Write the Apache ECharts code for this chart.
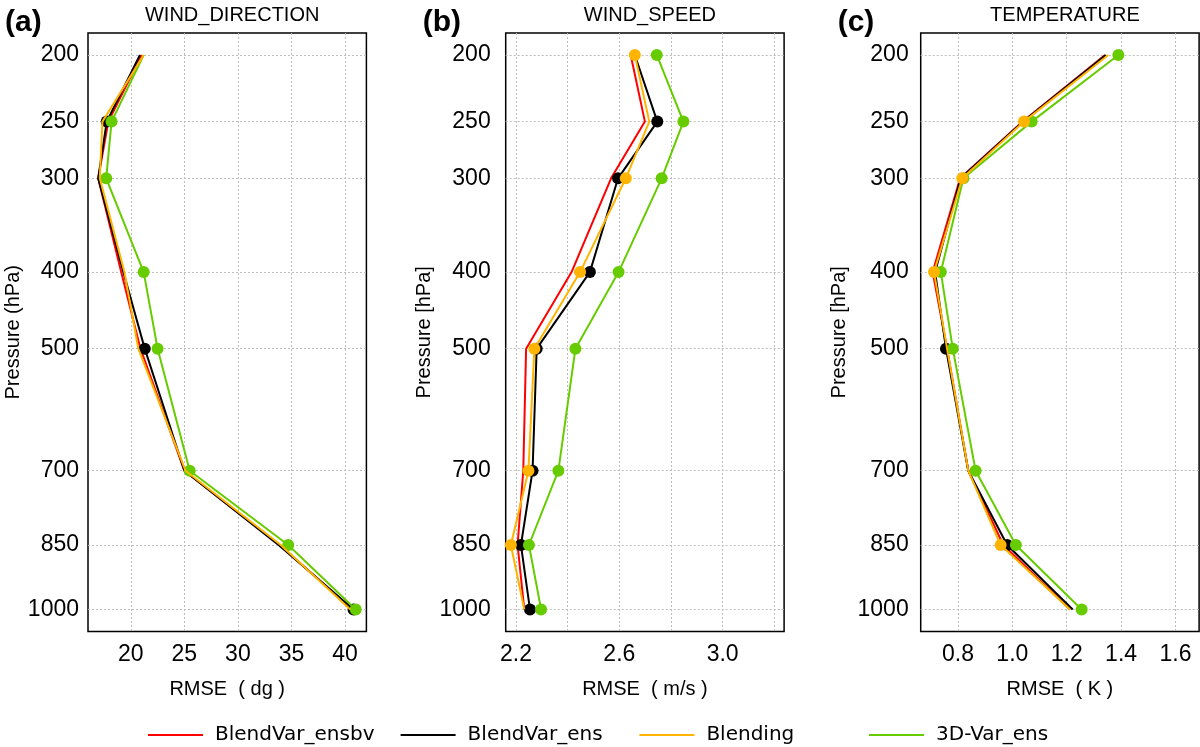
<!DOCTYPE html>
<html>
<head>
<meta charset="utf-8">
<script src="https://cdn.jsdelivr.net/npm/echarts@6/dist/echarts.min.js"></script>
<style>
  html, body { margin: 0; padding: 0; background: #fff; }
  #chart { width: 1200px; height: 747px; }
</style>
</head>
<body>
<div id="chart"></div>
<script>
// pressure levels (hPa)
const levels = [200, 250, 300, 400, 500, 700, 850, 1000];
const seriesNames = ['BlendVar_ensbv', 'BlendVar_ens', 'Blending', '3D-Var_ens'];

// (a) wind direction RMSE (dg)
const dirEnsbv = [21.0, 17.9, 16.95, 19.1, 20.9, 25.0, 33.9, 40.7];
const dirEns = [20.85, 17.75, 16.95, 19.3, 21.3, 25.0, 33.8, 40.8];
const dirBlending = [21.2, 17.35, 17.1, 19.4, 20.7, 25.1, 34.0, 40.5];
const dir3dvar = [21.2, 18.2, 17.7, 21.2, 22.5, 25.5, 34.7, 41.0];

// (b) wind speed RMSE (m/s)
const spdEnsbv = [2.644, 2.699, 2.568, 2.415, 2.239, 2.228, 2.206, 2.232];
const spdEns = [2.66, 2.747, 2.595, 2.486, 2.28, 2.264, 2.219, 2.254];
const spdBlending = [2.66, 2.716, 2.625, 2.448, 2.271, 2.248, 2.18, 2.232];
const spd3dvar = [2.745, 2.848, 2.764, 2.597, 2.43, 2.364, 2.25, 2.297];

// (c) temperature RMSE (K)
const tmpEnsbv = [1.341, 1.038, 0.808, 0.707, 0.76, 0.838, 0.967, 1.212];
const tmpEns = [1.344, 1.04, 0.81, 0.716, 0.756, 0.838, 0.981, 1.222];
const tmpBlending = [1.353, 1.043, 0.816, 0.712, 0.76, 0.838, 0.957, 1.212];
const tmp3dvar = [1.39, 1.071, 0.82, 0.737, 0.781, 0.865, 1.013, 1.255];

// x axis ticks / labels
const dirTicks = [20, 25, 30, 35, 40];
const dirLabels = [20, 25, 30, 35, 40];
const spdTicks = [2.2, 2.4, 2.6, 2.8, 3.0, 3.2];
const spdLabels = [2.2, 2.6, 3.0];
const tmpTicks = [0.8, 1.0, 1.2, 1.4, 1.6];
const tmpLabels = [0.8, 1.0, 1.2, 1.4, 1.6];

// which points carry a visible dot (order: ensbv, ens, blending, 3dvar)
const dotsA = [[0,0,0,0,0,0,0,0],[0,1,0,0,1,0,0,1],[0,0,0,0,0,0,0,0],[0,1,1,1,1,1,1,1]];
const dotsB = [[0,0,0,0,0,0,0,0],[0,1,1,1,1,1,1,1],[1,0,1,1,1,1,1,0],[1,1,1,1,1,1,1,1]];
const dotsC = [[0,0,0,0,0,0,0,0],[0,0,0,0,1,0,1,0],[0,1,1,1,0,0,1,0],[1,1,1,1,1,1,1,1]];

const colors = ['#ff0000', '#000000', '#ffb400', '#66cc00'];
// the vertical axis is stretched as p^0.2
const toY = p => Math.pow(p, 0.2);
const pTop = 185.4, pBottom = 1056;

const panels = [
    {tag: '(a)', title: 'WIND_DIRECTION', yName: 'Pressure (hPa)', xName: 'RMSE  ( dg )',
        left: 88, min: 16, max: 42, ticks: dirTicks, labels: dirLabels, digits: 0, labelMargin: 9,
        data: [dirEnsbv, dirEns, dirBlending, dir3dvar], dots: dotsA},
    {tag: '(b)', title: 'WIND_SPEED', yName: 'Pressure [hPa]', xName: 'RMSE  ( m/s )',
        left: 505.7, min: 2.16, max: 3.238, ticks: spdTicks, labels: spdLabels, digits: 1, labelMargin: 15,
        data: [spdEnsbv, spdEns, spdBlending, spd3dvar], dots: dotsB},
    {tag: '(c)', title: 'TEMPERATURE', yName: 'Pressure [hPa]', xName: 'RMSE  ( K )',
        left: 920.7, min: 0.663, max: 1.687, ticks: tmpTicks, labels: tmpLabels, digits: 1, labelMargin: 12,
        data: [tmpEnsbv, tmpEns, tmpBlending, tmp3dvar], dots: dotsC}
];

const plotW = 278.4, plotTop = 33, plotH = 598.5;
const font = 'Liberation Sans, Arial, sans-serif';
const gridLine = {show: true, lineStyle: {color: '#bdbdbd', type: [2, 2], width: 1}};

const grids = [], xAxes = [], yAxes = [], titles = [], series = [];
// draw order: red, black, green, orange on top
const drawOrder = [0, 1, 3, 2];

panels.forEach((pn, i) => {
    grids.push({left: pn.left, top: plotTop, width: plotW, height: plotH,
        show: true, borderColor: '#000', borderWidth: 1.5, containLabel: false});
    xAxes.push({
        type: 'value', gridIndex: i, min: pn.min, max: pn.max,
        name: pn.xName, nameLocation: 'middle', nameGap: 48,
        nameTextStyle: {fontFamily: font, fontSize: 20, color: '#000'},
        axisLine: {show: false}, axisTick: {show: false, customValues: pn.ticks},
        axisLabel: {customValues: pn.labels, margin: 12, fontFamily: font, fontSize: 23, color: '#000',
            formatter: v => v.toFixed(pn.digits)},
        splitLine: gridLine
    });
    yAxes.push({
        type: 'value', gridIndex: i, inverse: true, min: toY(pTop), max: toY(pBottom),
        name: pn.yName, nameLocation: 'middle', nameGap: i === 0 ? 62 : 71, nameRotate: 90,
        nameTextStyle: {fontFamily: font, fontSize: 20, color: '#000'},
        axisLine: {show: false}, axisTick: {show: false, customValues: levels.map(toY)},
        axisLabel: {customValues: levels.map(toY), margin: pn.labelMargin, fontFamily: font, fontSize: 23, color: '#000',
            formatter: v => String(Math.round(Math.pow(v, 5)))},
        splitLine: gridLine
    });
    titles.push({text: pn.tag, left: pn.left - 88, top: 3,
        textStyle: {fontFamily: font, fontSize: 30, fontWeight: 'bold', color: '#000'}});
    titles.push({text: pn.title, left: pn.left + plotW / 2, textAlign: 'center', top: 0,
        textStyle: {fontFamily: font, fontSize: 20, fontWeight: 'normal', color: '#000'}});

    drawOrder.forEach((k, z) => {
        series.push({
            name: seriesNames[k], type: 'line', xAxisIndex: i, yAxisIndex: i,
            z: 2 + z, animation: false, silent: true,
            symbol: 'circle', showSymbol: true, showAllSymbol: true,
            lineStyle: {color: colors[k], width: 2},
            itemStyle: {color: colors[k]},
            data: pn.data[k].map((v, j) => ({
                value: [v, toY(levels[j])],
                symbolSize: pn.dots[k][j] ? 12 : 0
            }))
        });
    });
});

const legendLeft = [143, 395.6, 634.4, 864];
const legends = seriesNames.map((nm, k) => ({
    data: [nm], left: legendLeft[k], top: 720, icon: 'rect',
    itemWidth: 55, itemHeight: 2, selectedMode: false,
    textStyle: {fontFamily: 'DejaVu Sans', fontSize: 20, color: '#000', padding: [0, 0, 0, 7]}
}));

const myChart = echarts.init(document.getElementById('chart'));
myChart.setOption({
    backgroundColor: '#fff',
    color: colors,
    title: titles,
    legend: legends,
    grid: grids,
    xAxis: xAxes,
    yAxis: yAxes,
    series: series
});
</script>
</body>
</html>
